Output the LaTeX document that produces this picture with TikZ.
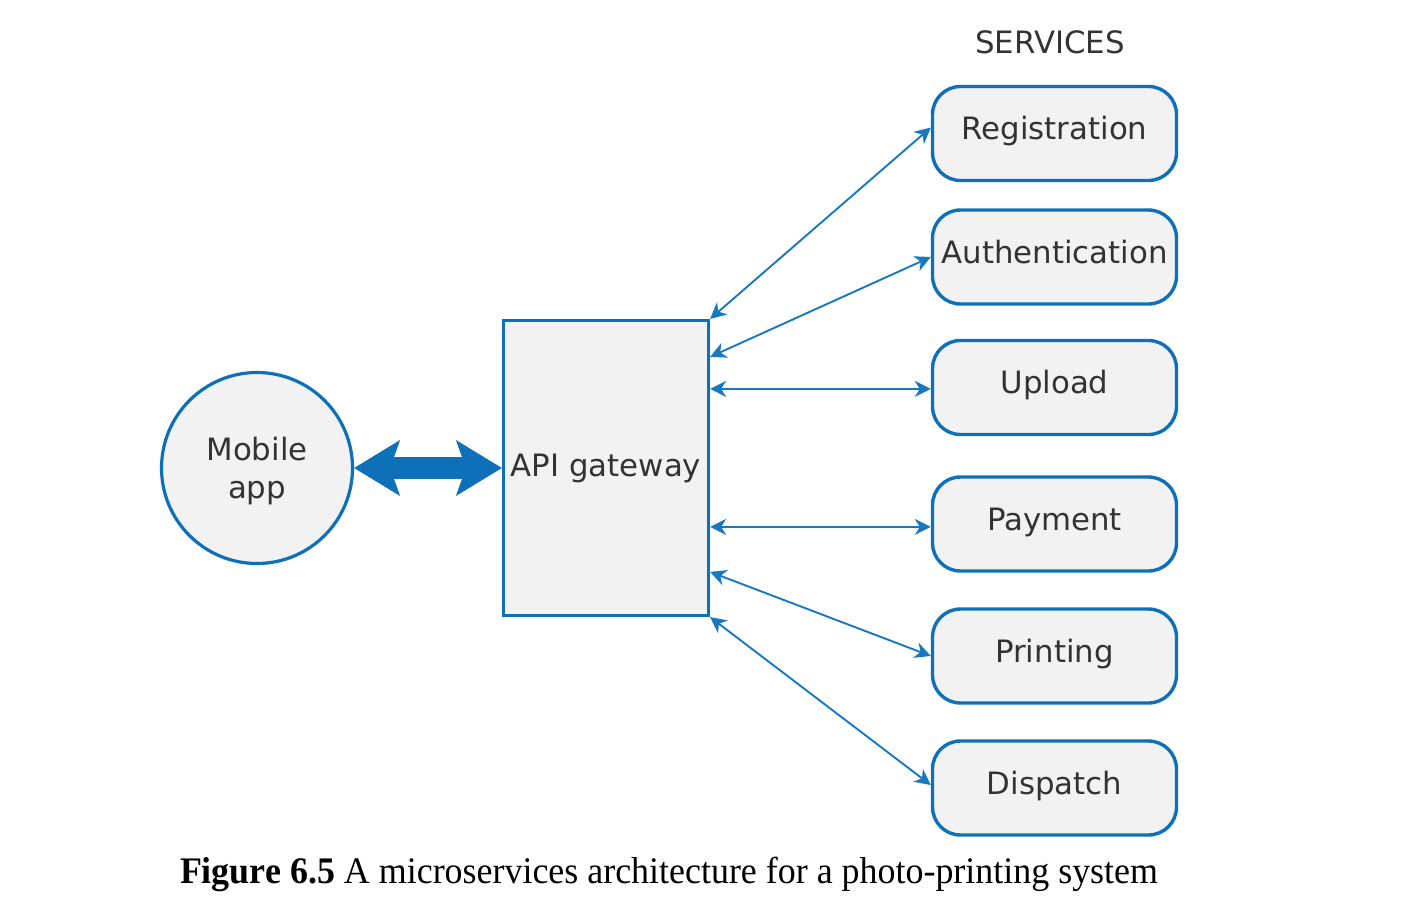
\documentclass[tikz,border=0pt]{standalone}
\usepackage{fontspec}
\setmainfont{DejaVu Sans}
\newfontfamily\capfont{Liberation Serif}
\usetikzlibrary{arrows.meta,calc}
\definecolor{mblue}{HTML}{0E70B8}
\definecolor{lblue}{HTML}{1878C0}
\definecolor{boxfill}{HTML}{F2F2F2}
\definecolor{txt}{HTML}{333333}
\newsavebox\capbox
\newlength\capw
\begin{document}
\sbox\capbox{\capfont\fontsize{37.5}{40}\selectfont\textbf{Figure 6.5} A microservices architecture for a photo-printing system}%
\setlength\capw{\wd\capbox}%
\pgfmathsetmacro\capsx{978/\capw}%
\begin{tikzpicture}[x=1pt,y=-1pt,
  lbl/.style={text=txt, font=\fontsize{30.8}{38}\selectfont},
  svc/.style={lbl, draw=mblue, line width=3.4pt, fill=boxfill, rounded corners=28pt,
    minimum width=244pt, minimum height=94pt, inner sep=0pt, text height=20pt, text depth=8pt},
  link/.style={draw=lblue, line width=1.9pt, {Stealth[length=16pt,width=16pt,inset=5pt]}-{Stealth[length=16pt,width=16pt,inset=5pt]}},
  bigarrow/.style={draw=mblue, line width=22pt, {Stealth[length=46pt,width=56pt,inset=10pt,line width=0pt]}-{Stealth[length=46pt,width=56pt,inset=10pt,line width=0pt]}}
  ]
\useasboundingbox (0,0) rectangle (1418,902);
\fill[white] (0,0) rectangle (1418,902);

\node[lbl] (title) at (1050,42) {SERVICES};

\node[lbl, circle, draw=mblue, line width=3.2pt, fill=boxfill, minimum size=191pt, inner sep=0pt] (app) at (257,468) {};
\node[lbl, align=center, inner sep=0pt] (applbl) at (257,471) {Mobile\\app};
\node[lbl, draw=mblue, line width=3.2pt, fill=boxfill, minimum width=205pt, minimum height=295pt, inner sep=0pt] (gw) at (606,468) {API gateway};

\node[svc] (reg) at (1054.5,133.5) {Registration};
\node[svc] (auth) at (1054.5,257) {Authentication};
\node[svc] (upl) at (1054.5,387.5) {Upload};
\node[svc] (pay) at (1054.5,524) {Payment};
\node[svc] (prt) at (1054.5,656) {Printing};
\node[svc] (dsp) at (1054.5,788) {Dispatch};

\coordinate (g1) at (gw.north east);
\coordinate (g2) at ($(gw.north east)+(0,38)$);
\coordinate (g3) at ($(gw.north east)+(0,70)$);
\coordinate (g4) at ($(gw.north east)+(0,208)$);
\coordinate (g5) at ($(gw.north east)+(0,253)$);
\coordinate (g6) at (gw.south east);

\coordinate (s1) at ($(reg.west)+(0,-6)$);
\coordinate (s6) at ($(dsp.west)+(0,-3)$);

\draw[link] (g1) -- (s1);
\draw[link] (g2) -- (auth.west);
\draw[link] (g3) -- (g3 -| upl.west);
\draw[link] (g4) -- (g4 -| pay.west);
\draw[link] (g5) -- (prt.west);
\draw[link] (g6) -- (s6);

\draw[bigarrow] (app) -- (gw);

\node[anchor=base, inner sep=0pt] (cap) at (669,883) {\scalebox{\capsx}[1]{\usebox\capbox}};
\end{tikzpicture}
\end{document}
